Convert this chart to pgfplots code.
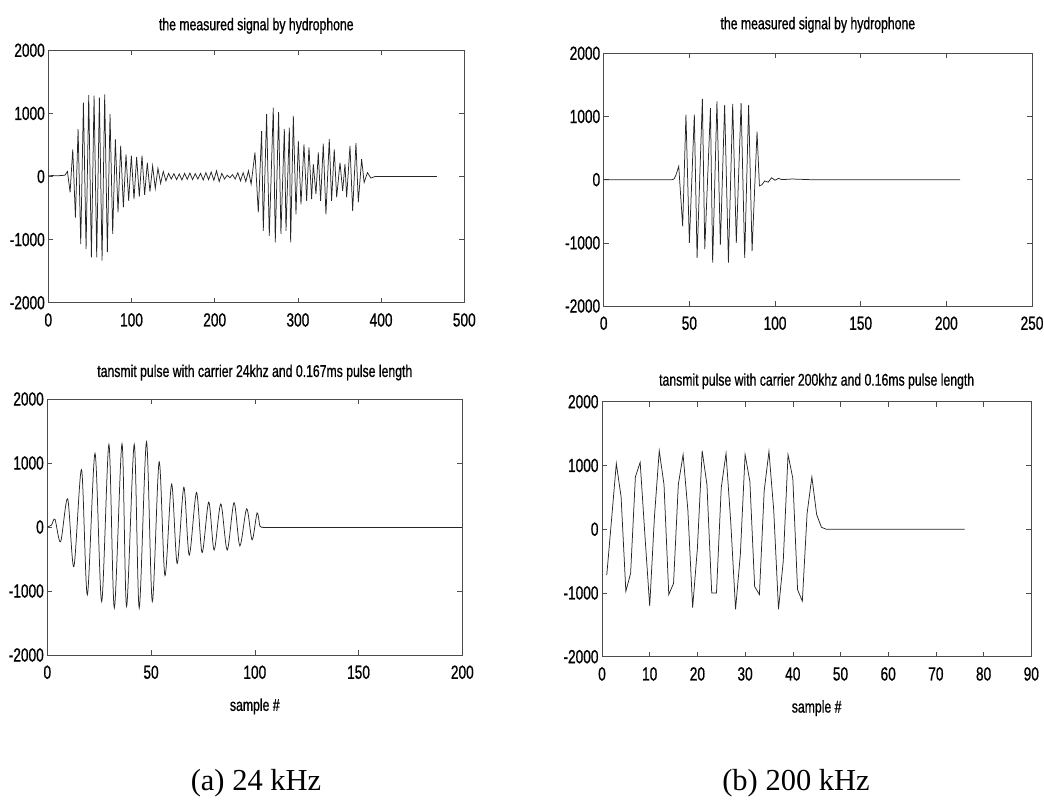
\documentclass[border=0pt]{standalone}
\usepackage{pgfplots}
\pgfplotsset{compat=1.18}
\usepackage{fontspec}
\setmainfont{Liberation Sans}[FakeStretch=0.72, FakeBold=0.8]
\newfontfamily\capfont{Liberation Serif}

\pgfplotsset{
  mystyle/.style={
    scale only axis, anchor=south west,
    ymin=-2000, ymax=2000,
    ytick={-2000,-1000,0,1000,2000},
    yticklabels={-2000,-1000,0,1000,2000},
    tick align=inside, major tick length=5pt,
    axis line style={black!70, line width=0.6pt},
    tick style={black!70, line width=0.6pt},
    ticklabel style={font=\fontsize{19}{22}\selectfont},
    xticklabel style={yshift=-7pt},
    title style={font=\fontsize{17}{20}\selectfont, at={(0.5,1)}, anchor=south},
    xlabel style={font=\fontsize{17}{20}\selectfont, at={(axis description cs:0.5,0)}, anchor=north, yshift=-40pt},
  },
  sig/.style={black!85, line width=0.75pt, mark=none},
}

\begin{document}
\begin{tikzpicture}
\useasboundingbox (0,0) rectangle (1044pt,803pt);

% ---------- top left ----------
\begin{axis}[mystyle, at={(48.3pt,500.3pt)}, width=416pt, height=252.4pt,
  xmin=0, xmax=500, xtick={0,100,200,300,400,500}, xticklabels={0,100,200,300,400,500},
  title={the measured signal by hydrophone}, title style={yshift=7pt}]
\addplot[sig] coordinates {
(0,10)(5,15)(10,10)(15,15)(20,20)
(23.0,80)(26.2,-250)(29.4,430)(32.6,-650)(35.8,750)(39.0,-1070)(42.2,1170)(45.4,-1150)
(48.6,1290)(51.8,-1280)(55.0,1280)(58.2,-1280)(61.4,1250)(64.6,-1335)(67.8,1300)(71.0,-1200)
(74.2,990)(77.4,-910)(80.6,590)(83.8,-570)(87.0,490)(90.2,-490)(93.4,350)(96.6,-385)
(99.8,330)(103.0,-360)(106.2,310)(109.4,-320)(112.6,330)(115.8,-290)(119.0,220)(122.2,-240)
(125.4,170)(128.6,-190)(131.8,130)(135.0,-110)(138.2,80)(141.4,-70)(144.6,50)(147.8,-40)
(151,45)(154.2,-50)(157.4,40)(160.6,-55)(163.8,50)(167,-45)(170.2,55)(173.4,-50)
(176.6,45)(179.8,-40)(183,50)(186.2,-55)(189.4,60)(192.6,-50)(195.8,70)(199,-60)
(202.2,90)(205.4,-80)(208.6,50)(211.8,-40)(215,20)(218.2,-20)(221.4,30)(224.6,-40)
(227.8,60)(231,-70)(234.2,60)(237.4,-80)(240.6,90)(243.8,-120)
(248.4,380)(252.4,-570)(256.4,720)(258.4,-860)(262.4,990)(265.6,-940)(270.4,1090)(272.8,-1045)
(276.8,1020)(279.6,-910)(283.7,750)(285.7,-860)(289.7,775)(291.3,-1045)(294.5,960)(297.7,-600)
(300.5,565)(303.7,-440)(307.3,510)(310.5,-385)(313.3,460)(316.5,-360)(318.5,195)(321.7,-280)
(324.5,380)(327.3,-385)(330.5,520)(333.7,-600)(337.7,590)(340.5,-385)(343.7,430)(346.6,-330)
(350.6,220)(353.8,-230)(356.6,195)(358.6,-330)(362.6,485)(365.8,-545)(369.8,530)(372.6,-410)
(376.6,275)(379.6,-95)(383.6,60)(387.8,-25)(392.6,0)(400,0)(467,0)
};
\end{axis}

% ---------- top right ----------
\begin{axis}[mystyle, at={(603.7pt,497pt)}, width=428.3pt, height=252.7pt,
  xmin=0, xmax=250, xtick={0,50,100,150,200,250}, xticklabels={0,50,100,150,200,250},
  title={the measured signal by hydrophone}, title style={yshift=11pt}]
\addplot[sig] coordinates {
(0,0)(20,0)(40,0)(41,10)(42,60)(43.8,210)(46.1,-740)(48,1030)(50,-1000)(52.9,1030)
(54.5,-1240)(57.6,1280)(59,-1100)(62.3,1130)(63.6,-1315)(66.1,1240)(68.1,-1030)(70.6,1185)
(72.8,-1315)(75.3,1200)(77.4,-1000)(80.2,1210)(82.3,-1240)(84.6,1185)(86.6,-1130)(89.5,760)
(90.9,-100)(92.4,-80)(94,-20)(96,-40)(98,30)(100,-10)(102,20)(104,0)(110,10)(120,0)(208,0)
};
\end{axis}

% ---------- bottom left ----------
\begin{axis}[mystyle, at={(47.3pt,148pt)}, width=415pt, height=256pt,
  xmin=0, xmax=200, xtick={0,50,100,150,200}, xticklabels={0,50,100,150,200},
  title={tansmit pulse with carrier 24khz and 0.167ms pulse length}, title style={yshift=9pt},
  xlabel={sample \#}]
\addplot[sig, smooth, tension=0.5] coordinates {
(0,0)(2,30)(3.7,120)(6.4,-230)(9.8,440)(12.8,-620)(16.5,895)(19.3,-1060)(23.0,1150)
(26.2,-1165)(29.7,1290)(32.3,-1265)(36.0,1300)(38.2,-1240)(41.9,1290)(44.3,-1265)(47.8,1330)
(50.6,-1165)(53.9,1020)(56.7,-760)(59.9,670)(62.6,-570)(65.8,620)(68.4,-440)(71.9,540)
(74.6,-400)(77.8,390)(80.4,-360)(83.6,360)(86.7,-360)(90.0,380)(92.8,-295)(96.1,285)
(98.7,-200)(101.1,220)(102.5,10)(104,0)
};
\addplot[sig] coordinates {(104,0)(200,0)};
\end{axis}

% ---------- bottom right ----------
\begin{axis}[mystyle, at={(602pt,146.3pt)}, width=429.3pt, height=255pt,
  xmin=0, xmax=90, xtick={0,10,...,90}, xticklabels={0,10,20,30,40,50,60,70,80,90},
  title={tansmit pulse with carrier 200khz and 0.16ms pulse length}, title style={yshift=3pt},
  xlabel={sample \#}]
\addplot[sig] coordinates {
(1,-720)(2,150)(3,1030)(4,510)(5,-975)(6,-690)(7,820)(8,1050)(9,-100)(10,-1205)
(11,200)(12,1230)(13,700)(14,-1025)(15,-850)(16,700)(17,1170)(18,300)(19,-1230)(20,-300)
(21,1230)(22,700)(23,-1000)(24,-1000)(25,650)(26,1190)(27,100)(28,-1256)(29,-400)(30,1170)
(31,750)(32,-900)(33,-1025)(34,600)(35,1220)(36,300)(37,-1256)(38,-500)(39,1170)(40,800)
(41,-950)(42,-1128)(43,250)(44,820)(45,230)(46,30)(47,0)(76,0)
};
\end{axis}

\node[font=\capfont\fontsize{30.5}{33}\selectfont] at (256pt,20pt) {(a) 24 kHz};
\node[font=\capfont\fontsize{30.5}{33}\selectfont] at (796pt,20pt) {(b) 200 kHz};
\end{tikzpicture}
\end{document}
